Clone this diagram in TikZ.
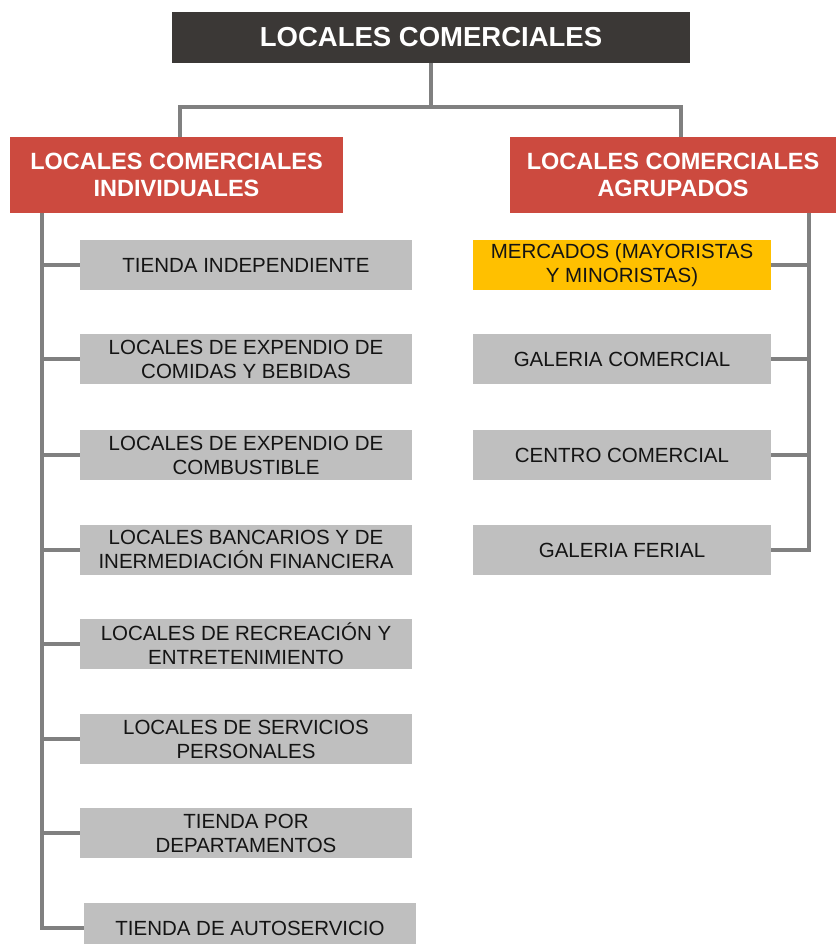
\documentclass[tikz,border=0pt]{standalone}
\usepackage{fontspec}
\setmainfont{Liberation Sans}
\definecolor{topdark}{HTML}{3B3836}
\definecolor{redbox}{HTML}{CC4A3F}
\definecolor{graybox}{HTML}{BFBFBF}
\definecolor{yellowbox}{HTML}{FFC000}
\definecolor{linegray}{HTML}{808080}
\definecolor{txt}{HTML}{141414}
\begin{document}
\begin{tikzpicture}[x=1pt,y=-1pt,
  conn/.style={draw=linegray,line width=4pt},
  topbox/.style={fill=topdark,text=white,minimum width=518pt,minimum height=51pt,inner sep=0pt,
    font=\fontsize{27.5}{32}\selectfont\bfseries},
  catbox/.style={fill=redbox,text=white,minimum height=76pt,inner sep=0pt,align=center,
    font=\fontsize{23.5}{27}\selectfont\bfseries},
  itembox/.style={fill=graybox,text=txt,minimum height=50pt,inner sep=0pt,align=center,
    font=\fontsize{20.5}{24}\selectfont},
  litem/.style={itembox,minimum width=332pt},
  ritem/.style={itembox,minimum width=298pt}]
\clip (0,0) rectangle (836,944);
\fill[white] (0,0) rectangle (836,944);

\node[topbox] (top) at (431,37.5) {LOCALES COMERCIALES};
\node[catbox,minimum width=333pt] (L) at (176.5,175) {LOCALES COMERCIALES\\INDIVIDUALES};
\node[catbox,minimum width=326pt] (R) at (673,175) {LOCALES COMERCIALES\\AGRUPADOS};

\node[litem] (l1) at (246,265) {TIENDA INDEPENDIENTE};
\node[litem] (l2) at (246,359) {LOCALES DE EXPENDIO DE\\COMIDAS Y BEBIDAS};
\node[litem] (l3) at (246,455) {LOCALES DE EXPENDIO DE\\COMBUSTIBLE};
\node[litem] (l4) at (246,549.5) {LOCALES BANCARIOS Y DE\\INERMEDIACIÓN FINANCIERA};
\node[litem] (l5) at (246,644) {LOCALES DE RECREACIÓN Y\\ENTRETENIMIENTO};
\node[litem] (l6) at (246,739) {LOCALES DE SERVICIOS\\PERSONALES};
\node[litem] (l7) at (246,833) {TIENDA POR\\DEPARTAMENTOS};
\node[litem] (l8) at (250,928) {TIENDA DE AUTOSERVICIO};

\node[ritem,fill=yellowbox] (r1) at (622,265) {MERCADOS (MAYORISTAS\\Y MINORISTAS)};
\node[ritem] (r2) at (622,359) {GALERIA COMERCIAL};
\node[ritem] (r3) at (622,455) {CENTRO COMERCIAL};
\node[ritem] (r4) at (622,550) {GALERIA FERIAL};

% top connectors
\coordinate (jn) at (431,107);
\coordinate (jl) at (180,107);
\coordinate (jr) at (681,107);
\draw[conn] (top.south) -- (jn);
\draw[conn,line join=miter] (jl |- L.north) -- (jl) -- (jr) -- (jr |- R.north);

% left spine
\coordinate (sl) at (42,0);
\draw[conn] (sl |- L.south) -- (sl |- l8.west) -- (l8.west);
\foreach \n in {l1,l2,l3,l4,l5,l6,l7}
  \draw[conn] (\n.west) -- (\n.west -| sl);

% right spine
\coordinate (sr) at (809,0);
\draw[conn] (sr |- R.south) -- (sr |- r4.east) -- (r4.east);
\foreach \n in {r1,r2,r3}
  \draw[conn] (\n.east) -- (\n.east -| sr);
\end{tikzpicture}
\end{document}
